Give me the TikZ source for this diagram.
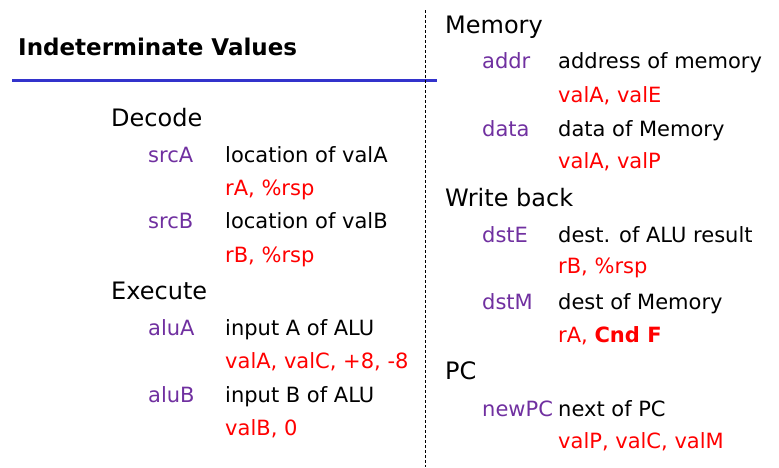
\documentclass[tikz,border=0pt]{standalone}
\usepackage{fontspec}
\setmainfont{DejaVu Sans}
\definecolor{keypurple}{RGB}{112,48,160}
\definecolor{titleblue}{RGB}{51,51,204}

\begin{document}
\begin{tikzpicture}[x=1pt,y=-1pt,
  stage/.style={anchor=base west, inner sep=0pt, font=\fontsize{24}{28}\selectfont},
  sig/.style={anchor=base west, inner sep=0pt, text=keypurple, font=\fontsize{21}{25}\selectfont},
  desc/.style={anchor=base west, inner sep=0pt, font=\fontsize{21}{25}\selectfont},
  src/.style={anchor=base west, inner sep=0pt, text=red, font=\fontsize{21}{25}\selectfont}]
\useasboundingbox (0,0) rectangle (779,467);

\node[anchor=base west, inner sep=0pt, font=\fontsize{23}{27}\selectfont\bfseries] (title) at (18,55) {Indeterminate Values};
\coordinate (ruleL) at (12,80);
\coordinate (ruleR) at (437,80);
\draw[titleblue, line width=3pt] (ruleL) -- (ruleR);
\coordinate (sepT) at (425.5,10);
\coordinate (sepB) at (425.5,467);
\draw[dash pattern=on 3pt off 2pt] (sepT) -- (sepB);

% left column
\node[stage] (decode) at (111,126) {Decode};
\node[sig] (srcA) at (148,162) {srcA};
\node[desc] (srcAd) at (225,162) {location of valA};
\node[src] (srcAv) at (225,195) {rA, \%rsp};
\node[sig] (srcB) at (148,228) {srcB};
\node[desc] (srcBd) at (225,228) {location of valB};
\node[src] (srcBv) at (225,262) {rB, \%rsp};

\node[stage] (execute) at (111,299) {Execute};
\node[sig] (aluA) at (148,335) {aluA};
\node[desc] (aluAd) at (225,335) {input A of ALU};
\node[src] (aluAv) at (225,368) {valA, valC, +8, -8};
\node[sig] (aluB) at (148,402) {aluB};
\node[desc] (aluBd) at (225,402) {input B of ALU};
\node[src] (aluBv) at (225,435) {valB, 0};

% right column
\node[stage] (memory) at (445,33) {Memory};
\node[sig] (addr) at (482,68) {addr};
\node[desc] (addrd) at (558,68) {address of memory};
\node[src] (addrv) at (558,102) {valA, valE};
\node[sig] (data) at (482,136) {data};
\node[desc] (datad) at (558,136) {data of Memory};
\node[src] (datav) at (558,168) {valA, valP};

\node[stage] (wback) at (445,206) {Write back};
\node[sig] (dstE) at (482,242) {dstE};
\node[desc] (dstEd) at (558,242) {dest. of ALU result};
\node[src] (dstEv) at (558,273) {rB, \%rsp};
\node[sig] (dstM) at (482,309) {dstM};
\node[desc] (dstMd) at (558,309) {dest of Memory};
\node[src] (dstMv) at (558,342) {rA, \textbf{Cnd F}};

\node[stage] (pc) at (445,379) {PC};
\node[sig] (newPC) at (482,416) {newPC};
\node[desc] (newPCd) at (558,416) {next of PC};
\node[src] (newPCv) at (558,448) {valP, valC, valM};
\end{tikzpicture}
\end{document}
